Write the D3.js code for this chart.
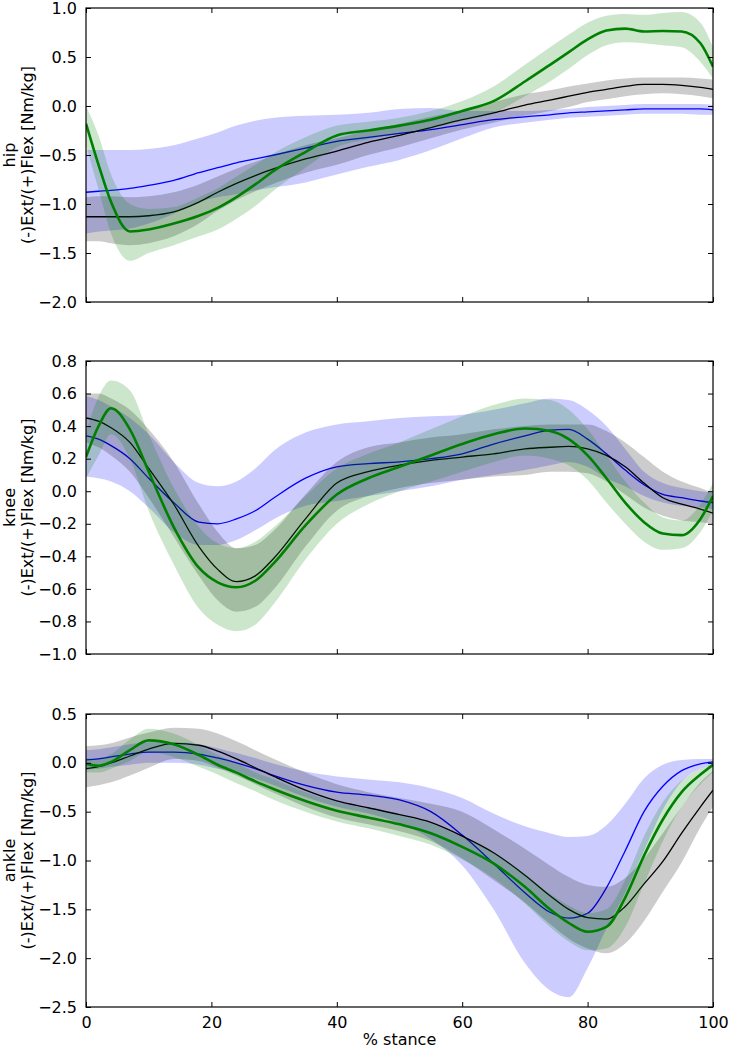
<!DOCTYPE html>
<html><head><meta charset="utf-8">
<script src="https://cdn.jsdelivr.net/npm/d3@7"></script>
<style>body{margin:0;background:#fff}svg{display:block}text{font-family:"DejaVu Sans",sans-serif;}</style>
</head><body>
<svg id="c" width="730" height="1050"></svg>
<script>
// shared x grid (% stance)
const stance = [0,2,4,7,10,14,18,21,24,27,30,35,40,45,50,55,60,65,70,74,77,80,83,86,89,92,95,98,100];
const xTicks = [0,20,40,60,80,100];

// HIP
const hipBlackMean = [-1.13,-1.13,-1.13,-1.13,-1.12,-1.08,-0.98,-0.88,-0.79,-0.71,-0.64,-0.54,-0.46,-0.37,-0.30,-0.22,-0.14,-0.07,0.01,0.06,0.10,0.14,0.17,0.20,0.22,0.22,0.21,0.19,0.17];
const hipBlackHi = [-0.93,-0.92,-0.92,-0.93,-0.92,-0.88,-0.80,-0.72,-0.64,-0.57,-0.50,-0.40,-0.33,-0.25,-0.18,-0.11,-0.04,0.04,0.12,0.16,0.20,0.23,0.26,0.28,0.29,0.29,0.29,0.28,0.27];
const hipBlackLo = [-1.38,-1.38,-1.40,-1.42,-1.40,-1.33,-1.20,-1.07,-0.96,-0.87,-0.79,-0.68,-0.60,-0.50,-0.42,-0.33,-0.24,-0.17,-0.10,-0.05,-0.01,0.04,0.07,0.10,0.12,0.13,0.12,0.10,0.08];
const hipBlueMean = [-0.88,-0.87,-0.86,-0.84,-0.81,-0.76,-0.68,-0.63,-0.58,-0.54,-0.50,-0.43,-0.36,-0.32,-0.28,-0.24,-0.19,-0.14,-0.11,-0.09,-0.07,-0.06,-0.05,-0.04,-0.03,-0.03,-0.03,-0.03,-0.04];
const hipBlueHi = [-0.45,-0.45,-0.45,-0.45,-0.44,-0.40,-0.33,-0.27,-0.20,-0.15,-0.12,-0.10,-0.09,-0.07,-0.03,-0.02,-0.05,-0.05,-0.05,-0.04,-0.03,-0.01,0.00,0.01,0.02,0.02,0.02,0.02,0.01];
const hipBlueLo = [-1.30,-1.28,-1.27,-1.25,-1.20,-1.10,-0.98,-0.93,-0.90,-0.86,-0.83,-0.78,-0.70,-0.62,-0.55,-0.45,-0.33,-0.22,-0.17,-0.14,-0.12,-0.11,-0.10,-0.09,-0.08,-0.08,-0.08,-0.09,-0.09];
const hipGreenMean = [-0.18,-0.60,-0.98,-1.28,-1.26,-1.20,-1.12,-1.04,-0.93,-0.80,-0.66,-0.47,-0.30,-0.25,-0.20,-0.14,-0.05,0.05,0.25,0.42,0.55,0.68,0.77,0.79,0.76,0.765,0.76,0.64,0.40];
const hipGreenHi = [0.00,-0.30,-0.70,-1.00,-1.05,-1.03,-0.93,-0.84,-0.72,-0.60,-0.48,-0.32,-0.20,-0.16,-0.12,-0.05,0.05,0.20,0.42,0.60,0.73,0.85,0.92,0.94,0.93,0.95,0.96,0.85,0.60];
const hipGreenLo = [-0.40,-0.85,-1.30,-1.58,-1.50,-1.42,-1.33,-1.26,-1.15,-1.02,-0.86,-0.63,-0.42,-0.34,-0.28,-0.23,-0.15,-0.07,0.10,0.25,0.38,0.52,0.62,0.65,0.64,0.62,0.60,0.45,0.28];

// KNEE
const kneeBlackMean = [0.45,0.43,0.39,0.30,0.14,-0.08,-0.34,-0.48,-0.555,-0.52,-0.41,-0.17,0.05,0.12,0.16,0.19,0.21,0.23,0.26,0.27,0.275,0.26,0.22,0.15,0.05,-0.04,-0.08,-0.11,-0.135];
const kneeBlackHi = [0.60,0.60,0.57,0.50,0.38,0.18,-0.08,-0.25,-0.35,-0.33,-0.24,-0.02,0.18,0.27,0.30,0.33,0.35,0.38,0.40,0.41,0.41,0.41,0.37,0.30,0.21,0.12,0.06,0.02,-0.01];
const kneeBlackLo = [0.30,0.27,0.22,0.12,-0.04,-0.28,-0.52,-0.67,-0.74,-0.71,-0.60,-0.34,-0.12,-0.03,0.02,0.05,0.07,0.09,0.10,0.12,0.12,0.11,0.06,-0.02,-0.10,-0.15,-0.18,-0.19,-0.20];
const kneeBlueMean = [0.34,0.32,0.28,0.20,0.08,-0.07,-0.19,-0.20,-0.17,-0.12,-0.04,0.08,0.15,0.17,0.18,0.20,0.23,0.29,0.34,0.375,0.38,0.32,0.23,0.13,0.04,-0.02,-0.04,-0.06,-0.07];
const kneeBlueHi = [0.585,0.56,0.52,0.45,0.35,0.18,0.05,0.03,0.06,0.14,0.25,0.36,0.41,0.43,0.45,0.46,0.47,0.50,0.54,0.57,0.56,0.50,0.40,0.26,0.12,0.05,0.02,0.00,-0.01];
const kneeBlueLo = [0.09,0.08,0.06,0.00,-0.10,-0.25,-0.33,-0.33,-0.30,-0.24,-0.17,-0.09,-0.06,-0.03,0.00,0.03,0.07,0.10,0.13,0.16,0.18,0.15,0.08,0.03,-0.03,-0.07,-0.09,-0.10,-0.11];
const kneeGreenMean = [0.21,0.40,0.51,0.38,0.12,-0.22,-0.47,-0.56,-0.59,-0.55,-0.44,-0.21,-0.02,0.08,0.15,0.22,0.29,0.35,0.385,0.37,0.32,0.22,0.08,-0.07,-0.19,-0.26,-0.27,-0.17,-0.03];
const kneeGreenHi = [0.36,0.58,0.68,0.62,0.35,0.02,-0.22,-0.32,-0.35,-0.31,-0.22,-0.03,0.14,0.23,0.30,0.38,0.46,0.53,0.57,0.56,0.50,0.38,0.22,0.06,-0.07,-0.16,-0.18,-0.08,0.05];
const kneeGreenLo = [0.08,0.22,0.35,0.20,-0.12,-0.45,-0.72,-0.82,-0.86,-0.82,-0.69,-0.42,-0.20,-0.08,0.00,0.06,0.12,0.18,0.22,0.20,0.16,0.07,-0.07,-0.20,-0.31,-0.36,-0.35,-0.25,-0.12];

// ANKLE
const ankleBlackMean = [-0.06,-0.04,0.00,0.07,0.14,0.20,0.18,0.12,0.04,-0.05,-0.14,-0.28,-0.39,-0.46,-0.53,-0.61,-0.75,-0.92,-1.15,-1.36,-1.50,-1.585,-1.60,-1.47,-1.24,-1.01,-0.72,-0.45,-0.28];
const ankleBlackHi = [0.17,0.18,0.20,0.26,0.31,0.36,0.35,0.30,0.22,0.13,0.04,-0.10,-0.22,-0.30,-0.36,-0.42,-0.50,-0.68,-0.88,-1.05,-1.17,-1.25,-1.27,-1.18,-0.98,-0.72,-0.45,-0.20,-0.08];
const ankleBlackLo = [-0.25,-0.23,-0.20,-0.13,-0.05,0.04,0.02,-0.05,-0.13,-0.22,-0.31,-0.45,-0.56,-0.63,-0.70,-0.80,-0.98,-1.20,-1.43,-1.65,-1.80,-1.90,-1.95,-1.85,-1.62,-1.32,-1.02,-0.66,-0.45];
const ankleBlueMean = [0.03,0.04,0.06,0.09,0.11,0.11,0.09,0.05,0.00,-0.06,-0.13,-0.23,-0.30,-0.33,-0.38,-0.50,-0.74,-1.03,-1.33,-1.53,-1.59,-1.54,-1.28,-0.90,-0.50,-0.24,-0.08,-0.01,0.01];
const ankleBlueHi = [0.13,0.14,0.16,0.19,0.21,0.21,0.19,0.15,0.10,0.05,-0.01,-0.09,-0.14,-0.17,-0.20,-0.26,-0.36,-0.52,-0.65,-0.72,-0.76,-0.75,-0.64,-0.42,-0.16,-0.02,0.03,0.04,0.04];
const ankleBlueLo = [-0.07,-0.06,-0.04,-0.02,0.00,0.00,-0.02,-0.06,-0.10,-0.16,-0.23,-0.35,-0.45,-0.52,-0.62,-0.78,-1.05,-1.50,-2.05,-2.33,-2.40,-2.10,-1.70,-1.33,-0.90,-0.48,-0.19,-0.06,-0.02];
const ankleGreenMean = [-0.01,-0.03,0.01,0.13,0.23,0.19,0.08,-0.02,-0.10,-0.19,-0.27,-0.39,-0.49,-0.56,-0.63,-0.72,-0.86,-1.03,-1.27,-1.50,-1.64,-1.73,-1.68,-1.38,-0.95,-0.58,-0.30,-0.12,-0.02];
const ankleGreenHi = [0.05,0.04,0.09,0.24,0.35,0.30,0.18,0.08,0.00,-0.10,-0.17,-0.30,-0.40,-0.47,-0.54,-0.62,-0.76,-0.92,-1.14,-1.34,-1.46,-1.54,-1.50,-1.20,-0.75,-0.40,-0.18,-0.06,-0.01];
const ankleGreenLo = [-0.10,-0.10,-0.06,0.02,0.11,0.06,-0.04,-0.12,-0.21,-0.29,-0.38,-0.50,-0.60,-0.67,-0.75,-0.84,-0.99,-1.18,-1.44,-1.68,-1.83,-1.92,-1.90,-1.68,-1.24,-0.80,-0.45,-0.22,-0.10];

const hipTicks = [1.0,0.5,0.0,-0.5,-1.0,-1.5,-2.0];
const kneeTicks = [0.8,0.6,0.4,0.2,0.0,-0.2,-0.4,-0.6,-0.8,-1.0];
const ankleTicks = [0.5,0.0,-0.5,-1.0,-1.5,-2.0,-2.5];

const panels = [
  {name:"hip", top:8, bottom:302, dom:[-2.0,1.0], ticks:hipTicks,
   series:[
    {c:"#0000ff", w:1.3, m:hipBlueMean, lo:hipBlueLo, hi:hipBlueHi},
    {c:"#000000", w:1.3, m:hipBlackMean, lo:hipBlackLo, hi:hipBlackHi},
    {c:"#008000", w:2.6, m:hipGreenMean, lo:hipGreenLo, hi:hipGreenHi}]},
  {name:"knee", top:361, bottom:654, dom:[-1.0,0.8], ticks:kneeTicks,
   series:[
    {c:"#0000ff", w:1.3, m:kneeBlueMean, lo:kneeBlueLo, hi:kneeBlueHi},
    {c:"#000000", w:1.3, m:kneeBlackMean, lo:kneeBlackLo, hi:kneeBlackHi},
    {c:"#008000", w:2.6, m:kneeGreenMean, lo:kneeGreenLo, hi:kneeGreenHi}]},
  {name:"ankle", top:714, bottom:1007, dom:[-2.5,0.5], ticks:ankleTicks,
   series:[
    {c:"#0000ff", w:1.3, m:ankleBlueMean, lo:ankleBlueLo, hi:ankleBlueHi},
    {c:"#000000", w:1.3, m:ankleBlackMean, lo:ankleBlackLo, hi:ankleBlackHi},
    {c:"#008000", w:2.6, m:ankleGreenMean, lo:ankleGreenLo, hi:ankleGreenHi}]}
];

const L = 86, R = 713;
const svg = d3.select("#c");
const x = d3.scaleLinear().domain([0,100]).range([L,R]);
const fmt = v => (v<0?"\u2212":"") + Math.abs(v).toFixed(1);

panels.forEach((p,pi) => {
  const y = d3.scaleLinear().domain(p.dom).range([p.bottom,p.top]);
  const g = svg.append("g");
  const cid = "clip"+pi;
  g.append("clipPath").attr("id",cid).append("rect")
    .attr("x",L).attr("y",p.top).attr("width",R-L).attr("height",p.bottom-p.top);
  const plot = g.append("g").attr("clip-path",`url(#${cid})`);
  const area = d3.area().x((d,i)=>x(stance[i])).curve(d3.curveMonotoneX);
  const line = d3.line().x((d,i)=>x(stance[i])).y(d=>y(d)).curve(d3.curveMonotoneX);
  p.series.forEach(s => {
    plot.append("path")
      .attr("d", area.y0((d,i)=>y(s.lo[i])).y1((d,i)=>y(s.hi[i]))(s.m))
      .attr("fill", s.c).attr("fill-opacity",0.2).attr("stroke","none");
    plot.append("path").attr("d", line(s.m))
      .attr("fill","none").attr("stroke",s.c).attr("stroke-width",s.w);
  });
  // axes (inward ticks on all sides)
  const tl = 5;
  const yAxL = d3.axisLeft(y).tickValues(p.ticks).tickSize(-tl).tickPadding(tl+4).tickFormat(fmt);
  const yAxR = d3.axisRight(y).tickValues(p.ticks).tickSize(-tl).tickFormat("");
  const xAxB = d3.axisBottom(x).tickValues(xTicks).tickSize(-tl).tickPadding(tl+5).tickFormat(pi===2?d3.format("d"):"");
  const xAxT = d3.axisTop(x).tickValues(xTicks).tickSize(-tl).tickFormat("");
  const styleAx = a => {
    a.select(".domain").remove();
    a.selectAll(".tick line").attr("stroke","#000").attr("stroke-width",1);
    a.selectAll("text").attr("fill","#000").style("font-size","16px").style("font-family","DejaVu Sans");
  };
  g.append("g").attr("transform",`translate(${L},0)`).call(yAxL).call(styleAx);
  g.append("g").attr("transform",`translate(${R},0)`).call(yAxR).call(styleAx);
  g.append("g").attr("transform",`translate(0,${p.bottom})`).call(xAxB).call(styleAx);
  g.append("g").attr("transform",`translate(0,${p.top})`).call(xAxT).call(styleAx);
  g.append("rect").attr("x",L).attr("y",p.top).attr("width",R-L).attr("height",p.bottom-p.top)
    .attr("fill","none").attr("stroke","#000").attr("stroke-width",1.2);
  // y label (two lines)
  const cy = (p.top+p.bottom)/2;
  const lab = g.append("text").attr("transform",`translate(16,${cy}) rotate(-90)`)
    .attr("text-anchor","middle").style("font-size","16px").attr("fill","#000");
  lab.append("tspan").attr("x",0).attr("dy","-0.05em").text(p.name);
  lab.append("tspan").attr("x",0).attr("dy","1.12em").text("(-)Ext/(+)Flex [Nm/kg]");
});

svg.append("text").attr("x",(L+R)/2).attr("y",1045).attr("text-anchor","middle")
  .style("font-size","16px").attr("fill","#000").text("% stance");
</script>
</body></html>
